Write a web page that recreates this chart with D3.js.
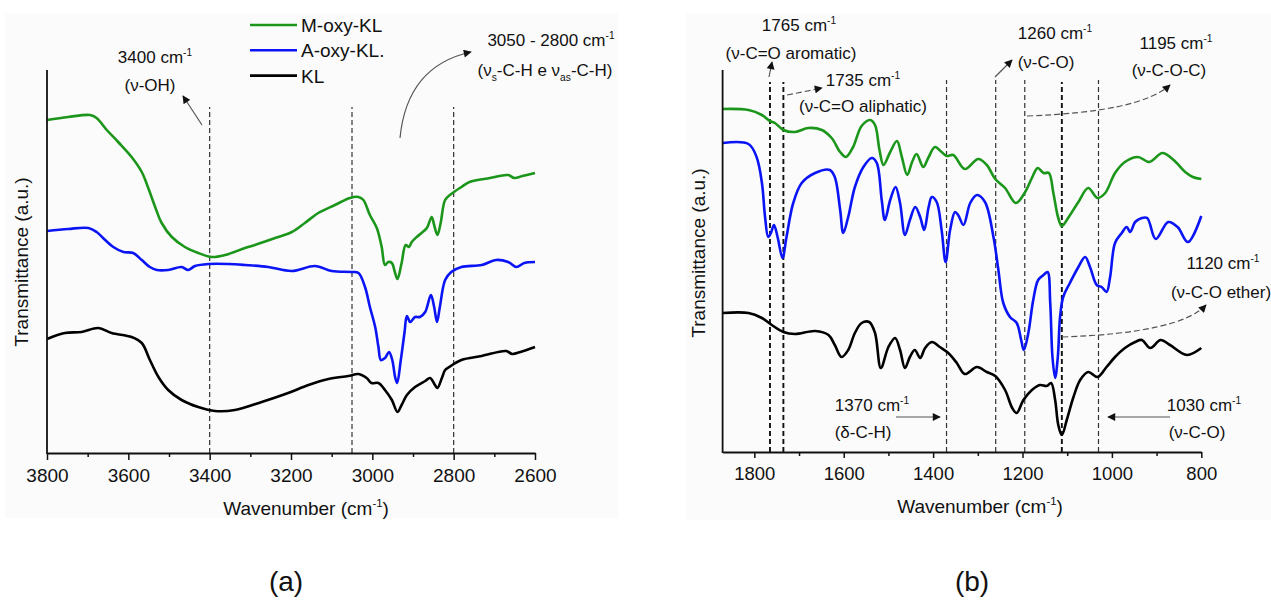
<!DOCTYPE html>
<html>
<head>
<meta charset="utf-8">
<script src="https://cdn.jsdelivr.net/npm/d3@7"></script>
<style>
  html, body { margin: 0; padding: 0; background: #ffffff; }
  svg { display: block; font-family: "Liberation Sans", Arial, sans-serif; }
</style>
</head>
<body>
<svg id="chart" width="1271" height="601"></svg>
<script>
// ---------------- DATA ----------------
// Panel (a): 3800-2600 cm-1, transmittance in arbitrary units (offset spectra)
const seriesNames = ["M-oxy-KL", "A-oxy-KL.", "KL"];
const seriesColors = ["#1b961b", "#0a14f5", "#000000"];

const aTicksMajor = [3800, 3600, 3400, 3200, 3000, 2800, 2600];
const aTicksMinor = [3700, 3500, 3300, 3100, 2900, 2700];
const aMarkers = [3400, 3050, 2800];

const aMoxyKL = [[3800,333],[3748,336],[3694,338],[3678,335],[3653,323],[3625,311],[3592,296],[3567,281],[3551,265],[3534,246],[3518,230],[3493,216],[3461,206],[3428,200],[3395,196],[3362,198],[3313,205],[3289,208],[3239,215],[3198,221],[3166,230],[3133,240],[3092,248],[3055,255],[3034,256],[3022,253],[3006,238],[2989,225],[2977,206],[2969,188],[2961,191],[2952,190],[2944,180],[2938,174],[2928,190],[2918,208],[2910,206],[2903,211],[2891,216],[2879,220],[2866,225],[2854,236],[2848,228],[2840,218],[2832,230],[2821,253],[2806,259],[2781,266],[2761,271],[2711,275],[2666,278],[2651,275],[2631,277],[2600,280]];
const aAoxyKL = [[3800,222],[3748,224],[3698,225],[3678,221],[3657,213],[3637,206],[3612,201],[3588,200],[3567,193],[3547,186],[3530,183],[3502,183],[3469,186],[3453,183],[3436,187],[3403,189],[3354,189],[3313,188],[3256,186],[3198,182],[3141,187],[3100,182],[3051,181],[3034,180],[3018,166],[3006,146],[2993,126],[2985,106],[2979,93],[2969,95],[2959,101],[2951,93],[2944,76],[2939,70],[2930,93],[2921,120],[2915,137],[2907,131],[2895,136],[2883,136],[2870,141],[2856,158],[2848,146],[2841,131],[2834,146],[2821,173],[2806,181],[2781,186],[2731,188],[2696,193],[2666,191],[2646,186],[2626,190],[2600,191]];
const aKL = [[3800,114],[3756,120],[3715,121],[3674,125],[3641,120],[3592,116],[3567,110],[3547,93],[3526,76],[3502,63],[3469,53],[3428,46],[3387,42],[3338,43],[3272,51],[3207,60],[3157,68],[3108,74],[3059,77],[3034,79],[3014,75],[3002,70],[2985,70],[2969,63],[2952,53],[2938,41],[2928,48],[2915,58],[2895,66],[2870,72],[2858,75],[2846,68],[2840,65],[2829,75],[2821,83],[2811,86],[2781,93],[2731,97],[2671,102],[2656,99],[2636,101],[2600,106]];

// Panel (b): 1870-800 cm-1
const bTicksMajor = [1800, 1600, 1400, 1200, 1000, 800];
const bTicksMinor = [1700, 1500, 1300, 1100, 900];
const bMarkersBold = [1765, 1735, 1112];
const bMarkersThin = [1370, 1260, 1195, 1030];

const bMoxyKL = [[1871,343],[1813,342],[1783,337],[1765,331],[1754,329],[1735,322],[1709,320],[1679,324],[1649,322],[1627,314],[1608,300],[1595,295],[1579,305],[1560,326],[1541,332],[1530,327],[1520,302],[1511,287],[1496,300],[1481,311],[1470,295],[1458,277],[1447,290],[1437,298],[1422,285],[1411,294],[1396,305],[1381,300],[1370,296],[1355,297],[1329,283],[1299,293],[1280,287],[1261,273],[1239,264],[1215,249],[1194,260],[1179,274],[1166,284],[1153,279],[1141,279],[1131,259],[1120,234],[1112,226],[1098,234],[1075,250],[1053,264],[1032,254],[1015,259],[993,279],[971,290],[942,295],[916,290],[887,299],[862,292],[836,280],[819,275],[800,273]];
const bAoxyKL = [[1871,309],[1813,308],[1795,295],[1783,269],[1776,235],[1769,215],[1763,219],[1756,227],[1748,215],[1737,194],[1728,215],[1713,249],[1694,269],[1664,279],[1631,282],[1620,275],[1608,242],[1601,219],[1590,235],[1575,265],[1556,285],[1537,294],[1526,289],[1515,252],[1508,232],[1496,252],[1484,265],[1474,249],[1463,217],[1452,232],[1440,245],[1429,235],[1420,222],[1410,245],[1403,255],[1392,250],[1381,222],[1372,190],[1362,222],[1351,240],[1344,237],[1332,227],[1317,249],[1302,257],[1284,250],[1265,215],[1254,182],[1243,149],[1228,135],[1213,129],[1203,112],[1197,102],[1187,119],[1176,152],[1165,172],[1153,177],[1144,180],[1138,149],[1133,95],[1127,74],[1121,95],[1116,135],[1109,155],[1094,169],[1075,185],[1060,195],[1049,185],[1034,167],[1023,165],[1012,160],[1004,175],[993,209],[978,219],[967,225],[959,220],[948,230],[933,234],[921,234],[902,213],[874,230],[853,225],[830,210],[800,236]];
const bKL = [[1871,139],[1813,139],[1783,134],[1761,127],[1735,120],[1709,118],[1664,121],[1634,117],[1620,107],[1605,95],[1590,102],[1575,119],[1560,129],[1543,130],[1530,119],[1517,84],[1500,105],[1485,114],[1474,102],[1463,84],[1452,95],[1441,102],[1429,94],[1418,104],[1403,110],[1385,105],[1366,99],[1347,89],[1329,78],[1302,85],[1280,80],[1261,76],[1239,62],[1223,44],[1213,39],[1198,52],[1179,62],[1161,67],[1146,66],[1136,69],[1127,52],[1120,27],[1112,17],[1101,32],[1086,55],[1071,72],[1053,80],[1032,75],[1012,85],[993,95],[971,104],[948,110],[933,112],[914,104],[891,112],[870,107],[832,97],[800,104]];

// ---------------- DRAW ----------------
const svg = d3.select("#chart");
const FONT = 19;

const defs = svg.append("defs");
defs.append("marker").attr("id","arr").attr("viewBox","0 0 10 10")
  .attr("refX",9).attr("refY",5).attr("markerWidth",9).attr("markerHeight",8)
  .attr("markerUnits","userSpaceOnUse").attr("orient","auto")
  .append("path").attr("d","M0,0 L10,5 L0,10 z").attr("fill","#111");

// faint panel backgrounds
svg.append("rect").attr("x",5).attr("y",13).attr("width",613).attr("height",505).attr("fill","#fbfbfb");
svg.append("rect").attr("x",686).attr("y",13).attr("width",585).attr("height",507).attr("fill","#fbfbfb");

function rich(g, x, y, parts, size, anchor) {
  const t = g.append("text").attr("x", x).attr("y", y)
    .attr("text-anchor", anchor || "middle").attr("font-size", size).attr("fill", "#111");
  let cur = 0;
  parts.forEach(p => {
    let target = 0, fs = size;
    if (p.sup) { target = -size * 0.42; fs = size * 0.6; }
    if (p.sub) { target = size * 0.28; fs = size * 0.6; }
    t.append("tspan").attr("dy", target - cur).attr("font-size", fs).text(p.t);
    cur = target;
  });
  return t;
}
const cm = (num) => [{t: num + " cm"}, {t: "-1", sup: true}];

function arrow(g, d, dashed) {
  g.append("path").attr("d", d).attr("fill","none").attr("stroke","#555")
    .attr("stroke-width",1.2).attr("stroke-dasharray", dashed ? "6,3" : null)
    .attr("marker-end","url(#arr)");
}

function panel(opts) {
  const g = svg.append("g");
  const x = d3.scaleLinear().domain(opts.xDomain).range(opts.xRange);
  const y = d3.scaleLinear().domain(opts.yDomain).range(opts.yRange);
  const y0 = opts.yRange[0], y1 = opts.yRange[1];

  // marker lines
  opts.markers.forEach(m => {
    g.append("line").attr("x1", x(m.v)).attr("x2", x(m.v))
      .attr("y1", y0).attr("y2", m.top)
      .attr("stroke", m.bold ? "#111" : "#333")
      .attr("stroke-width", m.bold ? 1.9 : 1.2)
      .attr("stroke-dasharray", "5,3");
  });

  // curves
  const line = d3.line().x(d => x(d[0])).y(d => y(d[1])).curve(d3.curveCatmullRom.alpha(0.5));
  opts.series.forEach((s, i) => {
    g.append("path").datum(s).attr("d", line).attr("fill","none")
      .attr("stroke", seriesColors[i]).attr("stroke-width", 2.6)
      .attr("stroke-linejoin","round");
  });

  // axes
  const ax = g.append("g").attr("transform", `translate(0,${y0})`)
    .call(d3.axisBottom(x).tickValues(opts.major).tickSize(opts.majorSize).tickSizeOuter(0)
      .tickPadding(opts.pad).tickFormat(d3.format("d")));
  ax.select(".domain").attr("stroke","#111").attr("stroke-width",1.8);
  ax.selectAll(".tick line").attr("stroke","#111").attr("stroke-width",1.5);
  ax.selectAll(".tick text").attr("font-size", opts.tickFont).attr("fill","#111")
    .attr("font-family","Liberation Sans, Arial, sans-serif");
  const axm = g.append("g").attr("transform", `translate(0,${y0})`)
    .call(d3.axisBottom(x).tickValues(opts.minor).tickSize(opts.minorSize).tickSizeOuter(0).tickFormat(""));
  axm.select(".domain").remove();
  axm.selectAll(".tick line").attr("stroke","#111").attr("stroke-width",1.5);

  g.append("line").attr("x1", opts.xRange[0]).attr("x2", opts.xRange[0])
    .attr("y1", y0 + 0.9).attr("y2", y1).attr("stroke","#111").attr("stroke-width",1.8);

  // axis titles
  rich(g, opts.titleX, opts.titleY, [{t:"Wavenumber (cm"},{t:"-1",sup:true},{t:")"}], FONT);
  g.append("text").attr("transform", `translate(${opts.ylabX},${opts.ylabY}) rotate(-90)`)
    .attr("text-anchor","middle").attr("dominant-baseline","central")
    .attr("font-size", FONT).attr("fill","#111").text("Transmittance (a.u.)");
  g.append("text").attr("x", opts.tagX).attr("y", 591).attr("text-anchor","middle")
    .attr("font-size", 28).attr("fill","#111").text(opts.tag);
  return {g, x, y};
}

// Panel (a)
const A = panel({
  xDomain: [3800, 2600], xRange: [47, 535],
  yDomain: [0, 383], yRange: [453, 70],
  markers: aMarkers.map(v => ({v, top: 107, bold: false})),
  series: [aMoxyKL, aAoxyKL, aKL],
  major: aTicksMajor, minor: aTicksMinor, majorSize: 7, minorSize: 4, pad: 9, tickFont: 19,
  titleX: 306, titleY: 515, ylabX: 21, ylabY: 262, tagX: 286, tag: "(a)"
});

// legend
const leg = A.g.append("g");
seriesNames.forEach((n, i) => {
  const yy = 25 + i * 25.3;
  leg.append("line").attr("x1", 250).attr("x2", 297).attr("y1", yy).attr("y2", yy)
    .attr("stroke", seriesColors[i]).attr("stroke-width", 2.6);
  leg.append("text").attr("x", 301).attr("y", yy + 7).attr("font-size", 19)
    .attr("fill","#111").text(n);
});

// annotations (a)
rich(A.g, 155, 63, cm("3400"), 17);
rich(A.g, 150, 91, [{t:"(ν-OH)"}], 17);
arrow(A.g, "M202,125 L183,96");
rich(A.g, 551, 46, [{t:"3050 - 2800 cm"},{t:"-1",sup:true}], 17);
rich(A.g, 545, 76, [{t:"(ν"},{t:"s",sub:true},{t:"-C-H e ν"},{t:"as",sub:true},{t:"-C-H)"}], 17);
arrow(A.g, "M400,138 Q407,66 471,52");

// Panel (b)
const B = panel({
  xDomain: [1871, 800], xRange: [722.6, 1201.3],
  yDomain: [0, 382], yRange: [452, 70],
  markers: bMarkersBold.map(v => ({v, top: 82, bold: true}))
    .concat(bMarkersThin.map(v => ({v, top: 80, bold: false}))),
  series: [bMoxyKL, bAoxyKL, bKL],
  major: bTicksMajor, minor: bTicksMinor, majorSize: 6, minorSize: 4, pad: 9, tickFont: 18.5,
  titleX: 980, titleY: 513, ylabX: 698, ylabY: 253, tagX: 972, tag: "(b)"
});

rich(B.g, 799, 31, cm("1765"), 17);
rich(B.g, 791, 59, [{t:"(ν-C=O aromatic)"}], 17);
arrow(B.g, "M769,77 L772,62");
rich(B.g, 863, 86, cm("1735"), 17);
rich(B.g, 863, 112, [{t:"(ν-C=O aliphatic)"}], 17);
arrow(B.g, "M787,95 L822,88", true);
rich(B.g, 1055, 39, cm("1260"), 17);
rich(B.g, 1046, 68, [{t:"(ν-C-O)"}], 17);
arrow(B.g, "M995,77 L1012,60");
rich(B.g, 1176, 49, cm("1195"), 17);
rich(B.g, 1169, 76, [{t:"(ν-C-O-C)"}], 17);
arrow(B.g, "M1027,116 Q1140,112 1170,85", true);
rich(B.g, 1223, 269, cm("1120"), 17);
rich(B.g, 1221, 298, [{t:"(ν-C-O ether)"}], 17);
arrow(B.g, "M1062,337 Q1180,333 1206,305", true);
rich(B.g, 872, 411, cm("1370"), 17);
rich(B.g, 863, 438, [{t:"(δ-C-H)"}], 17);
arrow(B.g, "M896,417 L940,417");
rich(B.g, 1204, 411, cm("1030"), 17);
rich(B.g, 1197, 438, [{t:"(ν-C-O)"}], 17);
arrow(B.g, "M1170,417 L1108,417");
</script>
</body>
</html>
